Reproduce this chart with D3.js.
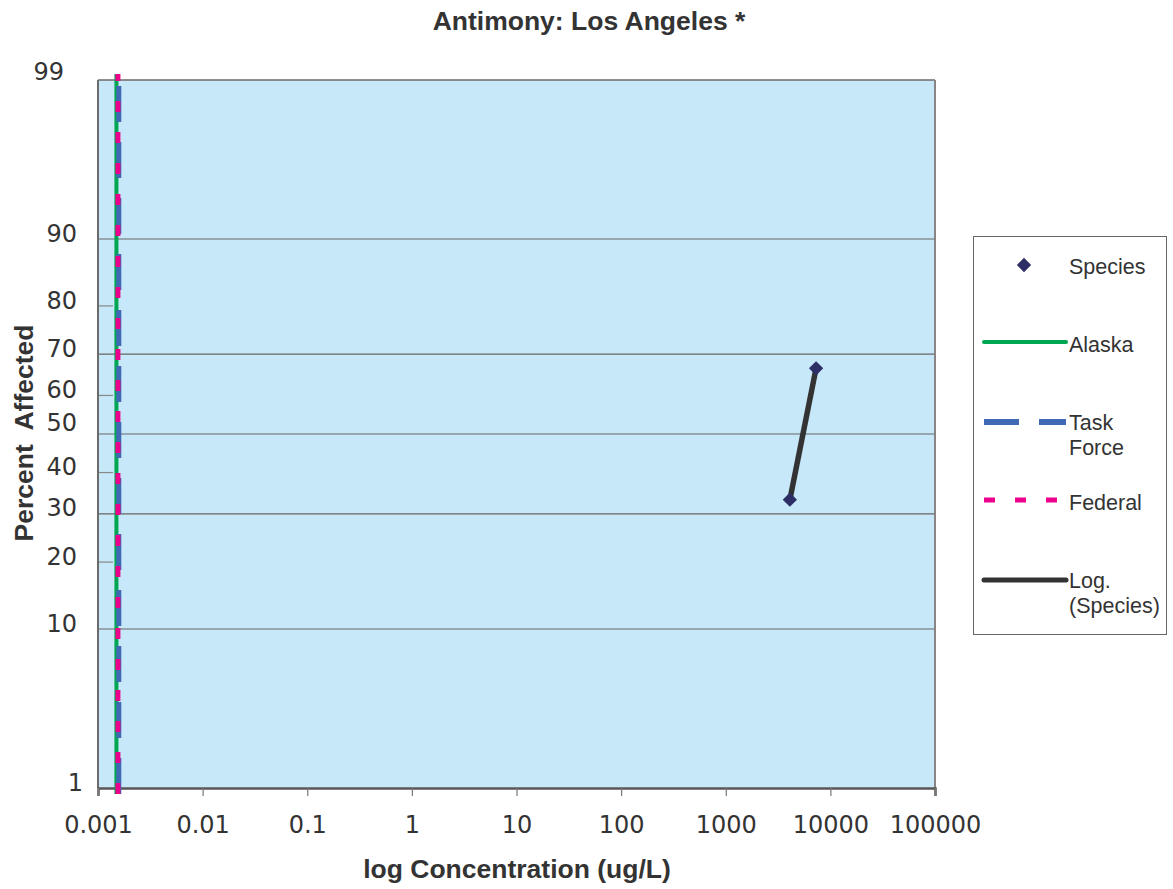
<!DOCTYPE html>
<html>
  <head>
  <script src="https://cdnjs.cloudflare.com/ajax/libs/d3/7.8.5/d3.min.js" charset="utf-8"></script>
  <style>
    body { margin: 0; background: #fff; }
  </style>
  </head>
  <body>
    <div id="chart"></div>
	<script type="text/javascript">

		// data
		var speciesConc = [4100, 7300];
		var speciesPct = [33.3, 66.7];
		var alaskaConc = [0.0015, 0.0015];
		var taskForceConc = [0.00158, 0.00158];
		var federalConc = [0.00155, 0.00155];
		var criteriaPct = [0.9, 99.1];
		var xTicks = [0.001, 0.01, 0.1, 1, 10, 100, 1000, 10000, 100000];
		var xTickLabels = ["0.001", "0.01", "0.1", "1", "10", "100", "1000", "10000", "100000"];
		var yLabels = [99, 90, 80, 70, 60, 50, 40, 30, 20, 10, 1];
		var yGrid = [90, 70, 50, 30, 10];
		var yMinor = [80, 60, 40, 20];

		// inverse normal cdf (Acklam)
		function probit(p) {
			var a = [-39.69683028665376, 220.9460984245205, -275.9285104469687, 138.3577518672690, -30.66479806614716, 2.506628277459239];
			var b = [-54.47609879822406, 161.5858368580409, -155.6989798598866, 66.80131188771972, -13.28068155288572];
			var c = [-0.007784894002430293, -0.3223964580411365, -2.400758277161838, -2.549732539343734, 4.374664141464968, 2.938163982698783];
			var d = [0.007784695709041462, 0.3224671290700398, 2.445134137142996, 3.754408661907416];
			var q, r;
			if (p < 0.02425) {
				q = Math.sqrt(-2 * Math.log(p));
				return (((((c[0]*q+c[1])*q+c[2])*q+c[3])*q+c[4])*q+c[5]) / ((((d[0]*q+d[1])*q+d[2])*q+d[3])*q+1);
			} else if (p > 1 - 0.02425) {
				q = Math.sqrt(-2 * Math.log(1 - p));
				return -(((((c[0]*q+c[1])*q+c[2])*q+c[3])*q+c[4])*q+c[5]) / ((((d[0]*q+d[1])*q+d[2])*q+d[3])*q+1);
			}
			q = p - 0.5;
			r = q * q;
			return (((((a[0]*r+a[1])*r+a[2])*r+a[3])*r+a[4])*r+a[5])*q / (((((b[0]*r+b[1])*r+b[2])*r+b[3])*r+b[4])*r+1);
		}

		var plotLeft = 98, plotRight = 935, plotTop = 80, plotBottom = 788;

		var x = d3.scaleLog().domain([0.001, 100000]).range([plotLeft, plotRight]);
		var z = d3.scaleLinear().domain([probit(0.01), probit(0.99)]).range([plotBottom, plotTop]);
		function y(pct) { return z(probit(pct / 100)); }

		var svg = d3.select("#chart")
			.append("svg")
			.attr("width", 1173)
			.attr("height", 889);

		// plot area
		svg.append("rect")
			.attr("x", plotLeft).attr("y", plotTop)
			.attr("width", plotRight - plotLeft).attr("height", plotBottom - plotTop)
			.attr("fill", "#c6e8f8");

		svg.selectAll(".grid")
			.data(yGrid)
			.enter()
			.append("line")
			.attr("x1", plotLeft).attr("x2", plotRight)
			.attr("y1", function(d){ return y(d); })
			.attr("y2", function(d){ return y(d); })
			.attr("stroke", "#666")
			.attr("stroke-width", 1.2);

		svg.selectAll(".minor")
			.data(yMinor)
			.enter()
			.append("line")
			.attr("x1", plotLeft).attr("x2", plotLeft + 15)
			.attr("y1", function(d){ return y(d); })
			.attr("y2", function(d){ return y(d); })
			.attr("stroke", "#888")
			.attr("stroke-width", 1.2);

		// border
		svg.append("line").attr("x1", plotLeft).attr("x2", plotRight).attr("y1", plotTop).attr("y2", plotTop)
			.attr("stroke", "#6e6a6a").attr("stroke-width", 1.5);
		svg.append("line").attr("x1", plotRight).attr("x2", plotRight).attr("y1", plotTop).attr("y2", plotBottom)
			.attr("stroke", "#8a8484").attr("stroke-width", 2);
		svg.append("line").attr("x1", plotLeft).attr("x2", plotLeft).attr("y1", plotTop).attr("y2", plotBottom)
			.attr("stroke", "#6e6a6a").attr("stroke-width", 2);

		// x axis
		var xAxis = d3.axisBottom(x)
			.tickValues(xTicks)
			.tickFormat(function(d, i){ return xTickLabels[i]; })
			.tickSize(8)
			.tickPadding(20);
		var gx = svg.append("g")
			.attr("transform", "translate(0," + plotBottom + ")")
			.call(xAxis);
		gx.select(".domain").attr("stroke", "#5a5656").attr("stroke-width", 2.5);
		gx.selectAll(".tick line").attr("stroke", "#777").attr("stroke-width", 1.2);
		gx.selectAll(".tick text")
			.attr("fill", "#333")
			.style("font-family", "'DejaVu Sans', Verdana, sans-serif")
			.style("font-size", "24px");

		// y labels
		svg.selectAll(".ylab")
			.data(yLabels)
			.enter()
			.append("text")
			.attr("x", function(d){ return d == 99 ? 64 : (d == 1 ? 83 : 77); })
			.attr("y", function(d){ return y(d) - (d == 50 ? 12 : (d == 99 ? 9 : 6)); })
			.attr("dy", "0.36em")
			.attr("text-anchor", "end")
			.attr("fill", "#333")
			.style("font-family", "'DejaVu Sans', Verdana, sans-serif")
			.style("font-size", "24px")
			.text(function(d){ return d; });

		// criteria lines
		function vline(conc, color, width, dash) {
			svg.append("line")
				.attr("x1", x(conc[0])).attr("x2", x(conc[1]))
				.attr("y1", y(criteriaPct[0])).attr("y2", y(criteriaPct[1]))
				.attr("stroke", color)
				.attr("stroke-width", width)
				.attr("stroke-dasharray", dash);
		}
		vline(alaskaConc, "#00a651", 4, null);
		vline(taskForceConc, "#3f68b5", 5, "36,20");
		vline(federalConc, "#ec008c", 5, "11,20");

		// trend line
		var line = d3.line()
			.x(function(d){ return x(d[0]); })
			.y(function(d){ return y(d[1]); });
		svg.append("path")
			.datum(d3.zip(speciesConc, speciesPct))
			.attr("d", line)
			.attr("fill", "none")
			.attr("stroke", "#333")
			.attr("stroke-width", 5.5);

		// species points
		var diamond = d3.symbol().type(d3.symbolDiamond2).size(130);
		svg.selectAll(".pt")
			.data(d3.zip(speciesConc, speciesPct))
			.enter()
			.append("path")
			.attr("d", diamond)
			.attr("transform", function(d){ return "translate(" + x(d[0]) + "," + y(d[1]) + ")"; })
			.attr("fill", "#2e2e66");

		// titles
		svg.append("text")
			.attr("x", 589).attr("y", 30)
			.attr("text-anchor", "middle")
			.attr("fill", "#333")
			.style("font-family", "'Liberation Sans', Arial, sans-serif")
			.style("font-weight", "bold")
			.style("font-size", "26.5px")
			.text("Antimony: Los Angeles *");

		svg.append("text")
			.attr("x", 517).attr("y", 878)
			.attr("text-anchor", "middle")
			.attr("fill", "#333")
			.style("font-family", "'Liberation Sans', Arial, sans-serif")
			.style("font-weight", "bold")
			.style("font-size", "26.5px")
			.text("log Concentration (ug/L)");

		svg.append("text")
			.attr("transform", "translate(33,433) rotate(-90)")
			.attr("text-anchor", "middle")
			.attr("fill", "#333")
			.style("font-family", "'Liberation Sans', Arial, sans-serif")
			.style("font-weight", "bold")
			.style("font-size", "26.5px")
			.style("white-space", "pre")
			.text("Percent  Affected");

		// legend
		var lg = svg.append("g");
		lg.append("rect")
			.attr("x", 973.5).attr("y", 236.5)
			.attr("width", 193).attr("height", 398)
			.attr("fill", "#fff")
			.attr("stroke", "#666");

		var legendFont = "'Liberation Sans', Arial, sans-serif";
		function legText(yy, lines) {
			var t = lg.append("text")
				.attr("x", 1069).attr("y", yy)
				.attr("fill", "#333")
				.style("font-family", legendFont)
				.style("font-size", "21.5px");
			lines.forEach(function(s, i){
				t.append("tspan").attr("x", 1069).attr("dy", i == 0 ? "0.35em" : 25).text(s);
			});
		}
		function legLine(yy, color, width, dash) {
			lg.append("line")
				.attr("x1", 984).attr("x2", 1066)
				.attr("y1", yy).attr("y2", yy)
				.attr("stroke", color)
				.attr("stroke-width", width)
				.attr("stroke-linecap", dash ? "butt" : "round")
				.attr("stroke-dasharray", dash);
		}
		lg.append("path")
			.attr("d", diamond)
			.attr("transform", "translate(1024,265)")
			.attr("fill", "#2e2e66");
		legText(266, ["Species"]);
		legLine(342, "#00a651", 4, null);
		legText(344, ["Alaska"]);
		legLine(422, "#3f68b5", 6, "35,20");
		legText(422, ["Task", "Force"]);
		legLine(500, "#ec008c", 5, "11,20");
		legText(502, ["Federal"]);
		legLine(580, "#333", 5, null);
		legText(580, ["Log.", "(Species)"]);

	</script>
  </body>
</html>
